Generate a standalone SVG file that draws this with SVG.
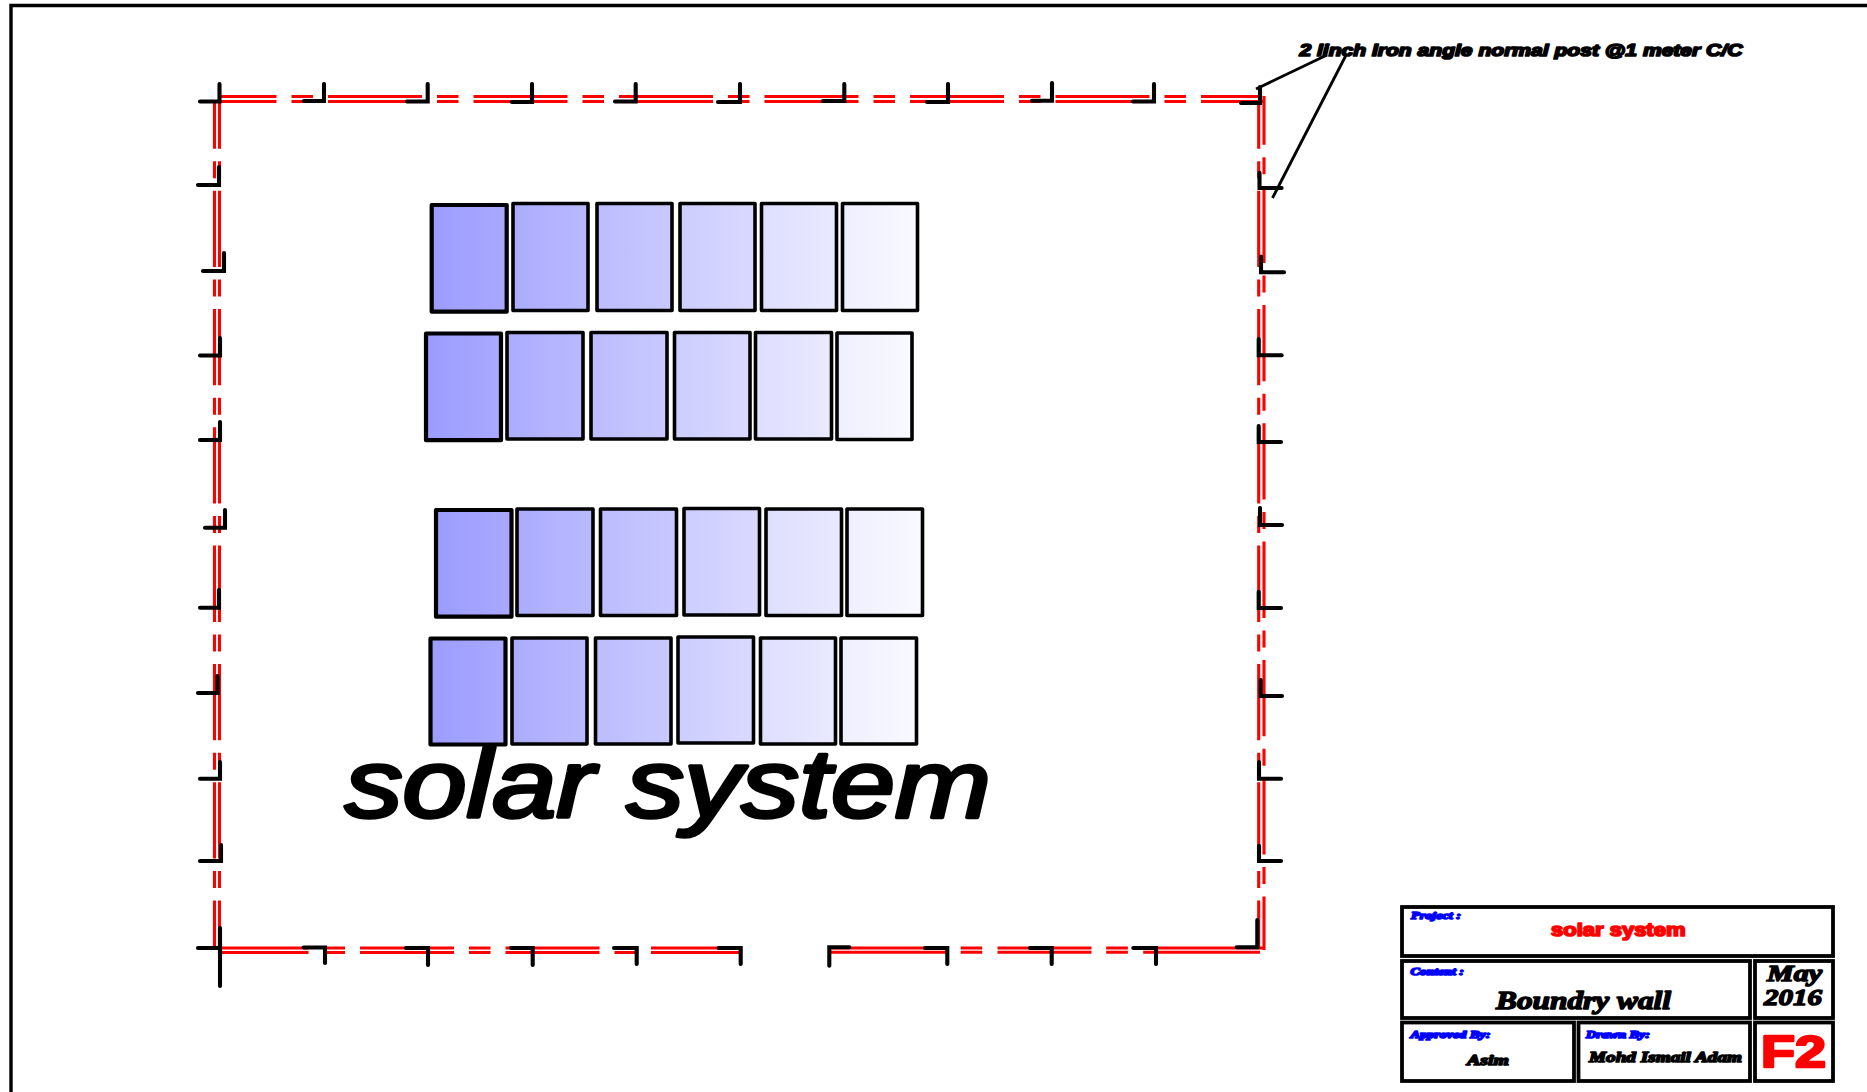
<svg xmlns="http://www.w3.org/2000/svg" width="1867" height="1092" viewBox="0 0 1867 1092">
<style>
.r{fill:none;stroke:#f00;stroke-width:3.1}
.rh{stroke-dasharray:94 15 21.5 15}
.rv{stroke-dasharray:76.3 12.5 17 12.5}
.t{fill:none;stroke:#000;stroke-width:4.1;stroke-linecap:round;stroke-linejoin:miter}
.l{fill:none;stroke:#000;stroke-width:2.8}
.p{stroke:#000;stroke-width:3.6;stroke-linejoin:round}
.p1{stroke-width:4.2}
.b{fill:#fff;stroke:#000;stroke-width:3.8}
.ss{font-family:"Liberation Serif",serif;font-weight:bold;stroke-linejoin:round}
.sa{font-family:"Liberation Sans",sans-serif;font-weight:bold;stroke-linejoin:round}
.bl{fill:#00f;stroke:#00f;stroke-width:1.6;font-style:italic;font-size:10.5px}
.bk{fill:#000;stroke:#000;stroke-width:1.5;font-style:italic}
</style>
<defs>
<linearGradient id="g1"><stop offset="0" stop-color="#9c9cff"/><stop offset="1" stop-color="#a9a9ff"/></linearGradient>
<linearGradient id="g2"><stop offset="0" stop-color="#acacff"/><stop offset="1" stop-color="#b9b9ff"/></linearGradient>
<linearGradient id="g3"><stop offset="0" stop-color="#bcbcff"/><stop offset="1" stop-color="#c9c9ff"/></linearGradient>
<linearGradient id="g4"><stop offset="0" stop-color="#cdcdff"/><stop offset="1" stop-color="#d9d9ff"/></linearGradient>
<linearGradient id="g5"><stop offset="0" stop-color="#dedeff"/><stop offset="1" stop-color="#e9e9ff"/></linearGradient>
<linearGradient id="g6"><stop offset="0" stop-color="#efefff"/><stop offset="1" stop-color="#f9f9ff"/></linearGradient>
</defs>
<rect width="1867" height="1092" fill="#fff"/>
<path id="border" d="M11 1092V5.5H1867" fill="none" stroke="#000" stroke-width="3.4"/>
<g id="wall">
<path class="r rh" stroke-dashoffset="37.5" d="M220 96.5H1258"/>
<path class="r rh" stroke-dashoffset="37.5" d="M220 101.5H1263"/>
<path class="r rv" stroke-dashoffset="30.6" d="M214.5 103V948"/>
<path class="r rv" stroke-dashoffset="30.6" d="M219.5 103V948"/>
<path class="r rv" stroke-dashoffset="27.6" d="M1258.7 100V948"/>
<path class="r rv" stroke-dashoffset="27.6" d="M1264 96V950"/>
<path class="r rh" stroke-dashoffset="4.5" d="M219 948H741"/>
<path class="r rh" stroke-dashoffset="4.5" d="M219 952.5H741"/>
<path class="r" stroke-dasharray="116 14.7 21.5 15.3 94 14.7 21.7 15.3 200" d="M830 948H1264"/>
<path class="r" stroke-dasharray="116 14.7 21.5 15.3 94 14.7 21.7 15.3 200" d="M830 952.3H1260"/>
</g>
<g id="posts">
<path class="t" d="M200 101.5H219.5V84"/>
<path class="t" d="M304 101H324V84"/>
<path class="t" d="M407 101.5H427.7V84"/>
<path class="t" d="M512 102H532V84"/>
<path class="t" d="M615 101.5H635.7V84"/>
<path class="t" d="M718 102H740V84"/>
<path class="t" d="M823 101H844.3V84"/>
<path class="t" d="M927 102H948V84"/>
<path class="t" d="M1032 100.7H1052V83"/>
<path class="t" d="M1133 101.5H1154V84"/>
<path class="t" d="M1241 103H1260V87"/>
<path class="t" d="M198 185H219V167"/>
<path class="t" d="M203 271H224V253"/>
<path class="t" d="M200 355.5H220V338"/>
<path class="t" d="M200 440H220V422"/>
<path class="t" d="M205 527.7H225V510"/>
<path class="t" d="M200 607.7H219V590"/>
<path class="t" d="M198 693H217.5V676"/>
<path class="t" d="M200 778.7H220V762"/>
<path class="t" d="M200 861H221V845"/>
<path class="t" d="M198 948H220M220 928V986"/>
<path class="t" d="M1259.5 172.7V188H1281.6"/>
<path class="t" d="M1261 256.5V272.2H1284"/>
<path class="t" d="M1258.7 339V355.3H1281.7"/>
<path class="t" d="M1258.7 426V442H1281"/>
<path class="t" d="M1260 508V525H1282"/>
<path class="t" d="M1258.7 591.7V608H1281"/>
<path class="t" d="M1260.7 680V696H1282"/>
<path class="t" d="M1259 762V778.7H1281"/>
<path class="t" d="M1259 845.7V861H1281"/>
<path class="t" d="M1236.7 947.3H1257.3V920"/>
<path class="t" d="M303.6 947.5H325V963"/>
<path class="t" d="M406 948H428V965"/>
<path class="t" d="M511 948H532.7V965"/>
<path class="t" d="M614 948H636.7V964"/>
<path class="t" d="M718.6 948H740.7V964"/>
<path class="t" d="M849.3 947.3H829.3V965.7"/>
<path class="t" d="M925 948H947.3V964"/>
<path class="t" d="M1030 948H1051.7V964"/>
<path class="t" d="M1133.3 948H1156V964"/>
</g>
<g id="connectors">
<path class="l" d="M1327 55L1256 89"/>
<path class="l" d="M1345.6 56L1272.5 198"/>
</g>
<g id="panels-row1">
<rect class="p p1" fill="url(#g1)" x="431.7" y="205" width="75" height="106.7"/>
<rect class="p" fill="url(#g2)" x="513" y="203.5" width="75" height="107"/>
<rect class="p" fill="url(#g3)" x="597" y="203.5" width="75" height="107"/>
<rect class="p" fill="url(#g4)" x="680" y="203.5" width="75" height="107"/>
<rect class="p" fill="url(#g5)" x="761.5" y="203.5" width="75" height="107"/>
<rect class="p" fill="url(#g6)" x="842.5" y="203.5" width="75" height="107"/>
</g>
<g id="panels-row2">
<rect class="p p1" fill="url(#g1)" x="426" y="333.5" width="75" height="106.7"/>
<rect class="p" fill="url(#g2)" x="507" y="332.5" width="76" height="106.5"/>
<rect class="p" fill="url(#g3)" x="591" y="332.5" width="76" height="106.5"/>
<rect class="p" fill="url(#g4)" x="674.5" y="332.5" width="75.5" height="106.5"/>
<rect class="p" fill="url(#g5)" x="755.5" y="332.5" width="76" height="106.5"/>
<rect class="p" fill="url(#g6)" x="837" y="333" width="75" height="106.5"/>
</g>
<g id="panels-row3">
<rect class="p p1" fill="url(#g1)" x="436" y="510" width="75.5" height="106.7"/>
<rect class="p" fill="url(#g2)" x="517" y="509" width="76" height="106.5"/>
<rect class="p" fill="url(#g3)" x="600.5" y="509" width="76" height="106.5"/>
<rect class="p" fill="url(#g4)" x="684" y="508.5" width="75.5" height="106.5"/>
<rect class="p" fill="url(#g5)" x="766" y="509" width="75.5" height="106.5"/>
<rect class="p" fill="url(#g6)" x="847" y="509" width="75.5" height="106.5"/>
</g>
<g id="panels-row4">
<rect class="p p1" fill="url(#g1)" x="430.5" y="638.5" width="75" height="106"/>
<rect class="p" fill="url(#g2)" x="512" y="638" width="75" height="106"/>
<rect class="p" fill="url(#g3)" x="595.5" y="638" width="75.5" height="106"/>
<rect class="p" fill="url(#g4)" x="678" y="637" width="75.5" height="106"/>
<rect class="p" fill="url(#g5)" x="760.5" y="638" width="75" height="106"/>
<rect class="p" fill="url(#g6)" x="841" y="638" width="75.5" height="106"/>
</g>
<text id="post-label" class="sa" x="1299.4" y="56" font-size="17" font-style="italic" fill="#000" stroke="#000" stroke-width="1.7" textLength="443" lengthAdjust="spacingAndGlyphs">2 linch Iron angle normal post @1 meter C/C</text>
<text id="main-title" x="345" y="816.7" font-family="'Liberation Sans',sans-serif" font-size="95.5" font-style="italic" fill="#000" stroke="#000" stroke-width="3.6" stroke-linejoin="round" textLength="646" lengthAdjust="spacingAndGlyphs">solar system</text>
<g id="title-block">
<rect class="b" x="1402" y="907" width="431" height="49"/>
<rect class="b" x="1402" y="961" width="348" height="57"/>
<rect class="b" x="1755" y="961" width="78" height="57"/>
<rect class="b" x="1402" y="1022.5" width="172" height="58.5"/>
<rect class="b" x="1578.5" y="1022.5" width="171.5" height="58.5"/>
<rect class="b" x="1755" y="1022.5" width="78" height="58.5"/>
<text class="ss bl" x="1411" y="918.5" textLength="50" lengthAdjust="spacingAndGlyphs">Project :</text>
<text class="sa" x="1551" y="936" font-size="18" fill="#f00" stroke="#f00" stroke-width="1.7" textLength="134.5" lengthAdjust="spacingAndGlyphs">solar system</text>
<text class="ss bl" x="1410.5" y="975" textLength="53.5" lengthAdjust="spacingAndGlyphs">Content :</text>
<text class="ss bk" x="1496" y="1009" font-size="26" textLength="175" lengthAdjust="spacingAndGlyphs">Boundry wall</text>
<text class="ss bk" x="1767" y="980.5" font-size="24" textLength="55" lengthAdjust="spacingAndGlyphs">May</text>
<text class="ss bk" x="1764" y="1005" font-size="24" textLength="58" lengthAdjust="spacingAndGlyphs">2016</text>
<text class="ss bl" x="1410.5" y="1037.5" textLength="80" lengthAdjust="spacingAndGlyphs">Approved By:</text>
<text class="ss bl" x="1586" y="1037.5" textLength="64" lengthAdjust="spacingAndGlyphs">Drawn By:</text>
<text class="ss bk" x="1467" y="1065" font-size="15" textLength="42" lengthAdjust="spacingAndGlyphs">Asim</text>
<text class="ss bk" x="1589" y="1062" font-size="15" textLength="153" lengthAdjust="spacingAndGlyphs">Mohd Ismail Adam</text>
<text class="sa" x="1761" y="1066.5" font-size="44" fill="#f00" stroke="#f00" stroke-width="2.4" textLength="65" lengthAdjust="spacingAndGlyphs">F2</text>
</g>
</svg>
